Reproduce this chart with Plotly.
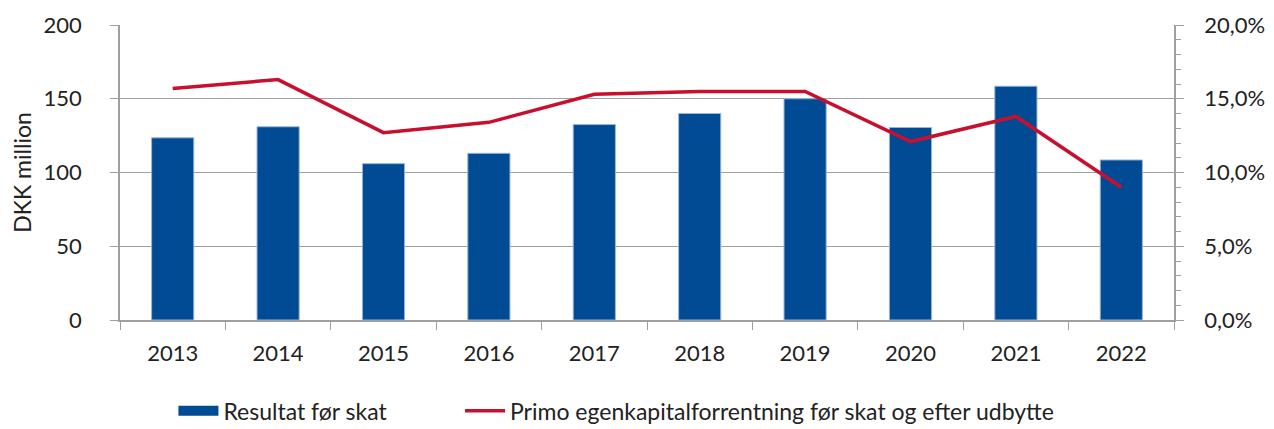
import plotly.graph_objects as go

years = ["2013", "2014", "2015", "2016", "2017", "2018", "2019", "2020", "2021", "2022"]
resultat = [123.5, 131, 106, 113, 132.5, 140, 150, 130.5, 158.5, 108.5]
forrentning = [0.157, 0.163, 0.127, 0.134, 0.153, 0.155, 0.155, 0.121, 0.138, 0.090]

BLUE = "#004b93"
RED = "#c8102e"
GRID = "#a0a0a0"
FONT = "Lato"

fig = go.Figure()

fig.add_trace(go.Bar(
    x=years,
    y=resultat,
    name="Resultat før skat",
    marker=dict(color=BLUE, line=dict(color="#9ab4d6", width=1)),
    showlegend=False,
))

# legend entry drawn as a wide block like the original
fig.add_trace(go.Scatter(
    x=[None], y=[None],
    name="Resultat før skat",
    mode="lines",
    line=dict(color=BLUE, width=14),
    legend="legend",
))

fig.add_trace(go.Scatter(
    x=years,
    y=forrentning,
    name="Primo egenkapitalforrentning før skat og efter udbytte",
    mode="lines",
    line=dict(color=RED, width=3.5),
    yaxis="y2",
    legend="legend2",
))

leg = dict(
    orientation="h",
    xanchor="left",
    y=-0.235,
    yanchor="top",
    font=dict(size=23),
    itemwidth=40,
    bgcolor="rgba(0,0,0,0)",
)

# page body adds an 8px offset, margins compensate for it
fig.update_layout(
    width=1274,
    height=429,
    margin=dict(l=112, r=108, t=17, b=117, autoexpand=False),
    plot_bgcolor="white",
    paper_bgcolor="white",
    separators=",.",
    bargap=0.6,
    font=dict(family=FONT, size=22, color="#222222"),
    showlegend=True,
    legend=dict(leg, x=0.0507),
    legend2=dict(leg, x=0.3226),
    xaxis=dict(
        showline=True,
        linecolor=GRID,
        linewidth=1.5,
        ticks="outside",
        tickson="boundaries",
        ticklen=8,
        tickcolor=GRID,
        showgrid=False,
        ticklabelstandoff=13,
        automargin=False,
    ),
    yaxis=dict(
        range=[0, 200],
        dtick=50,
        showline=True,
        linecolor=GRID,
        linewidth=1.5,
        ticks="outside",
        ticklen=8,
        tickcolor=GRID,
        showgrid=True,
        gridcolor=GRID,
        gridwidth=1.2,
        zeroline=False,
        ticklabelstandoff=24,
        automargin=False,
        title=dict(text="DKK million", standoff=16, font=dict(size=23)),
    ),
    yaxis2=dict(
        range=[0, 0.2],
        dtick=0.05,
        tickformat=".1%",
        overlaying="y",
        side="right",
        showline=True,
        linecolor=GRID,
        linewidth=1.5,
        ticks="outside",
        ticklen=8,
        tickcolor=GRID,
        showgrid=False,
        zeroline=False,
        ticklabelstandoff=16,
        automargin=False,
        minor=dict(dtick=0.01, ticks="outside", ticklen=5, tickcolor=GRID),
    ),
)

fig.write_html("out.html")
